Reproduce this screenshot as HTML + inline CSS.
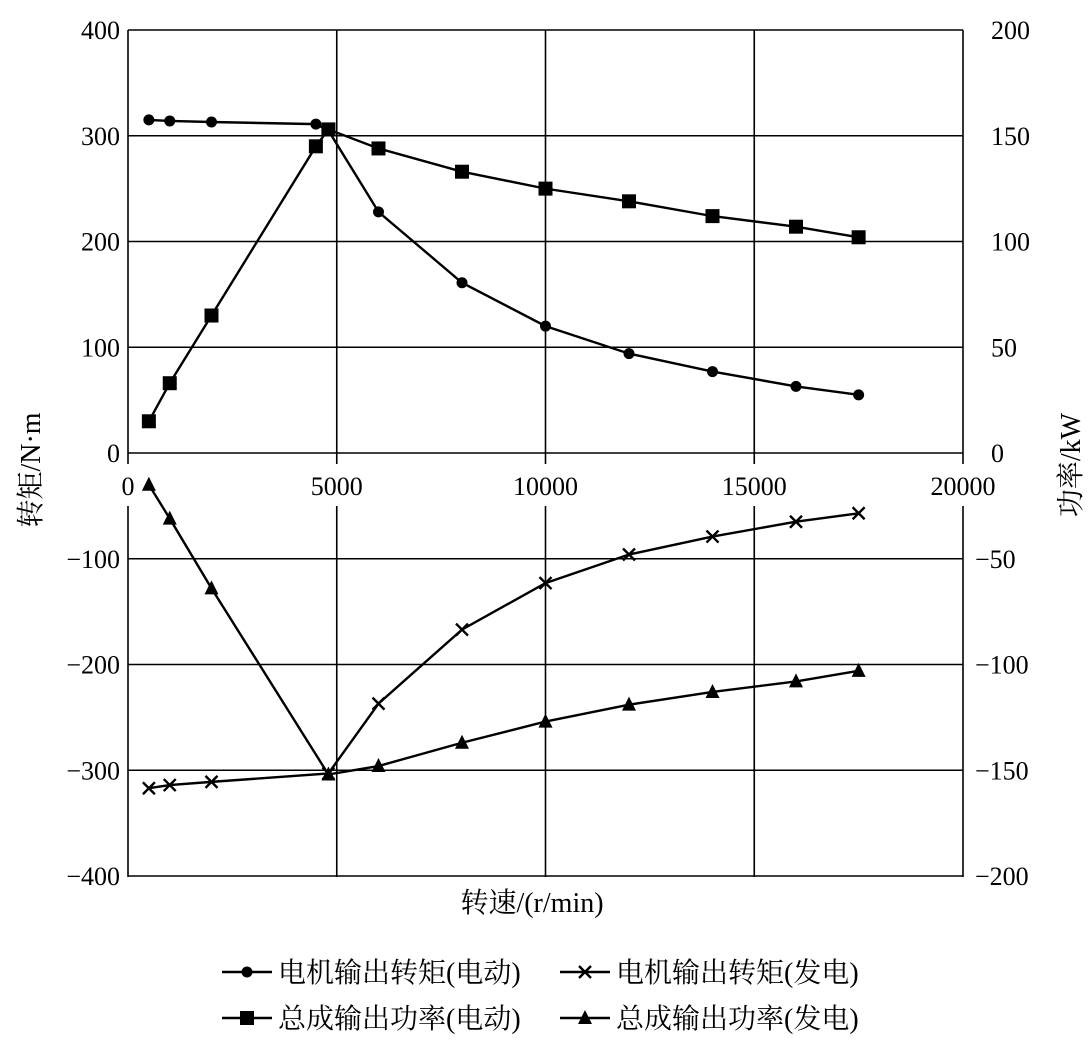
<!DOCTYPE html>
<html><head><meta charset="utf-8"><style>
body{margin:0;background:#fff}
svg text{font-family:"Liberation Serif","Noto Serif CJK SC","Noto Sans CJK SC",serif;fill:#000}
</style></head><body>
<svg id="chart" width="1089" height="1040" viewBox="0 0 1089 1040" xmlns="http://www.w3.org/2000/svg"></svg>
<script>
const xTicks=[0,5000,10000,15000,20000];
const yLeftTicks=[400,300,200,100,0,-100,-200,-300,-400];
const yRightTicks=[200,150,100,50,0,-50,-100,-150,-200];
const torqueMotorX=[500,1000,2000,4500,4800,6000,8000,10000,12000,14000,16000,17500];
const torqueMotorY=[315,314,313,311,305,228,161,120,94,77,63,55];
const powerMotorX=[500,1000,2000,4500,4800,6000,8000,10000,12000,14000,16000,17500];
const powerMotorY=[15,33,65,145,153,144,133,125,119,112,107,102];
const torqueGenX=[500,1000,2000,4800,6000,8000,10000,12000,14000,16000,17500];
const torqueGenY=[-317,-314,-311,-303,-237,-167,-123,-96,-79,-65,-57];
const powerGenX=[500,1000,2000,4800,6000,8000,10000,12000,14000,16000,17500];
const powerGenY=[-15,-31,-64,-152,-148,-137,-127,-119,-113,-108,-103];

const L=128,R=963,T=30,Z=453,B=877;
const sx=v=>L+(v/20000)*(R-L);
const sy=v=>Z-(v/400)*(Z-T);
const sr=v=>sy(v*2);
const NS="http://www.w3.org/2000/svg";
const svg=document.getElementById('chart');
function mk(tag,attrs,parent){const e=document.createElementNS(NS,tag);for(const k in attrs)e.setAttribute(k,attrs[k]);(parent||svg).appendChild(e);return e;}

const grid=mk('g',{});


// horizontal grid lines
yLeftTicks.forEach(v=>{const l=mk('line',{x1:L,x2:R,y1:sy(v),y2:sy(v),stroke:'#000','stroke-width':1.6},grid);

});
// vertical lines (broken in label band)
xTicks.forEach(v=>{[[T,Z+11],[Z+53,B]].forEach(s=>{const l=mk('line',{x1:sx(v),x2:sx(v),y1:s[0],y2:s[1],stroke:'#000','stroke-width':1.6},grid);

});});

// x tick labels
xTicks.forEach(v=>{const t=mk('text',{x:sx(v),y:Z+42,'text-anchor':'middle','font-size':26});t.textContent=v;

});
yLeftTicks.forEach(v=>{const t=mk('text',{x:L-8,y:sy(v)+9,'text-anchor':'end','font-size':26});t.textContent=v<0?'\u2212'+(-v):v;

});
yRightTicks.forEach(v=>{const t=mk('text',{x:R+(v<0?12:28),y:sr(v)+9,'text-anchor':'start','font-size':26});t.textContent=v<0?'\u2212'+(-v):v;

});

let t=mk('text',{x:0,y:0,'text-anchor':'middle','font-size':28,transform:'translate(40,470) rotate(-90)'});t.textContent='转矩/N·m';


t=mk('text',{x:0,y:0,'text-anchor':'middle','font-size':28,transform:'translate(1080,465) rotate(-90)'});t.textContent='功率/kW';


t=mk('text',{x:532,y:912,'text-anchor':'middle','font-size':28});t.textContent='转速/(r/min)';



function marker(type,x,y,g){
 if(type==='circle')return mk('circle',{cx:x,cy:y,r:5.5,fill:'#000'},g);
 if(type==='square')return mk('rect',{x:x-7,y:y-7,width:14,height:14,fill:'#000'},g);
 if(type==='tri')return mk('polygon',{points:`${x},${y-8} ${x-7},${y+6} ${x+7},${y+6}`,fill:'#000'},g);
 return mk('path',{d:`M${x-6},${y-6}L${x+6},${y+6}M${x-6},${y+6}L${x+6},${y-6}`,stroke:'#000','stroke-width':2.4},g);
}
function series(name,xs,ys,yf,type){
 const g=mk('g',{});
 
 
 const pts=xs.map((x,i)=>sx(x)+','+yf(ys[i])).join(' ');
 mk('polyline',{points:pts,fill:'none',stroke:'#000','stroke-width':2.4},g);
 xs.forEach((x,i)=>{const m=marker(type,sx(x),yf(ys[i]),g);
 
 });
}
series('motor-torque-series',torqueMotorX,torqueMotorY,sy,'circle');
series('motor-power-series',powerMotorX,powerMotorY,sr,'square');
series('generator-torque-series',torqueGenX,torqueGenY,sy,'x');
series('generator-power-series',powerGenX,powerGenY,sr,'tri');

// legend
const leg=[['circle',222,972,'电机输出转矩(电动)'],['x',560,972,'电机输出转矩(发电)'],['square',222,1018,'总成输出功率(电动)'],['tri',560,1018,'总成输出功率(发电)']];
leg.forEach(e=>{const g=mk('g',{});
 
 
 mk('line',{x1:e[1],x2:e[1]+50,y1:e[2],y2:e[2],stroke:'#000','stroke-width':2.4},g);
 marker(e[0],e[1]+25,e[2],g);
 const tx=mk('text',{x:e[1]+56,y:e[2]+10,'font-size':28},g);tx.textContent=e[3];});
</script>
</body></html>
